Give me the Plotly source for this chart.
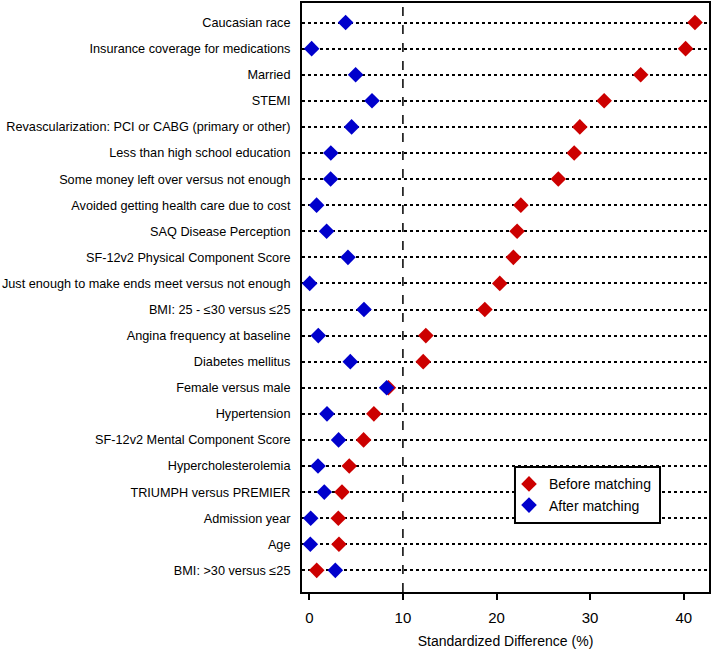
import plotly.graph_objects as go

# rows, top to bottom
variables = [
    "Caucasian race",
    "Insurance coverage for medications",
    "Married",
    "STEMI",
    "Revascularization: PCI or CABG (primary or other)",
    "Less than high school education",
    "Some money left over versus not enough",
    "Avoided getting health care due to cost",
    "SAQ Disease Perception",
    "SF-12v2 Physical Component Score",
    "Just enough to make ends meet versus not enough",
    "BMI: 25 - \u226430 versus \u226425",
    "Angina frequency at baseline",
    "Diabetes mellitus",
    "Female versus male",
    "Hypertension",
    "SF-12v2 Mental Component Score",
    "Hypercholesterolemia",
    "TRIUMPH versus PREMIER",
    "Admission year",
    "Age",
    "BMI: >30 versus \u226425",
]

before_matching = [41.2, 40.2, 35.4, 31.5, 28.9, 28.3, 26.6, 22.6, 22.2, 21.8, 20.35,
                   18.75, 12.45, 12.17, 8.45, 6.9, 5.8, 4.27, 3.49, 3.1, 3.17, 0.79]
after_matching = [3.88, 0.25, 4.95, 6.7, 4.52, 2.3, 2.28, 0.78, 1.85, 4.13, 0.04,
                  5.84, 0.96, 4.38, 8.26, 1.89, 3.13, 0.93, 1.6, 0.15, 0.11, 2.78]

x_ticks = [0, 10, 20, 30, 40]

RED = "#CC0000"
BLUE = "#0000CC"
FONT = "Liberation Sans, Arial, sans-serif"

fig = go.Figure()
fig.add_trace(go.Scatter(
    x=before_matching, y=variables, mode="markers", name="Before matching",
    marker=dict(symbol="diamond", size=12, color=RED), cliponaxis=False,
))
fig.add_trace(go.Scatter(
    x=after_matching, y=variables, mode="markers", name="After matching",
    marker=dict(symbol="diamond", size=12, color=BLUE), cliponaxis=False,
))

# reference line at 10%
fig.add_shape(type="line", xref="x", yref="paper", x0=10, x1=10, y0=0, y1=1,
              line=dict(color="black", width=1.5, dash="dash"), layer="below")

# legend frame (drawn as a shape so the legend itself can sit a bit tighter)
fig.add_shape(type="rect", xref="paper", yref="paper", x0=0.5233, x1=0.8796, y0=0.1171, y1=0.2122,
              line=dict(color="black", width=2), fillcolor="white", layer="above")

fig.update_xaxes(
    range=[-0.78, 42.7], tickvals=x_ticks, showgrid=False, zeroline=False,
    showline=True, linecolor="black", linewidth=2, mirror=True,
    ticks="outside", ticklen=6, tickwidth=2, tickcolor="black", ticklabelstandoff=5,
    tickfont=dict(size=15, color="black"), automargin=False,
    title=dict(text="Standardized Difference (%)", font=dict(size=14, color="black"), standoff=11),
)
fig.update_yaxes(
    type="category", categoryorder="array", categoryarray=variables,
    range=[21.83, -0.75], showgrid=True, gridcolor="black", gridwidth=1.5, griddash="dot",
    showline=True, linecolor="black", linewidth=2, mirror=True, zeroline=False,
    ticks="", ticklabelstandoff=7, tickfont=dict(size=12.7, color="black"),
    automargin=False,
)

fig.update_layout(
    width=713, height=653,
    margin=dict(l=302, r=4, t=3, b=61),
    plot_bgcolor="white", paper_bgcolor="white",
    font=dict(family=FONT, color="black"),
    showlegend=True,
    legend=dict(
        x=0.5086, y=0.21, xanchor="left", yanchor="top",
        bgcolor="rgba(0,0,0,0)", borderwidth=0,
        font=dict(size=14, color="black"), itemwidth=30,
        tracegroupgap=0,
    ),
)

fig.write_html("out.html", config={"displayModeBar": False},
               post_script="document.body.style.margin='0';")
